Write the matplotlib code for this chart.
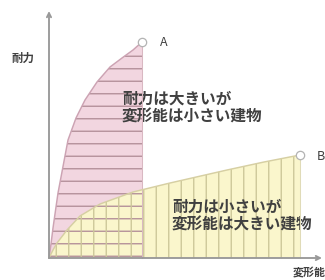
import matplotlib
matplotlib.use("Agg")
import matplotlib.pyplot as plt

plt.rcParams['font.family'] = ['Noto Sans CJK JP', 'DejaVu Sans']
plt.rcParams['hatch.linewidth'] = 1.3

# Curve A: high strength, low deformability (deformation, strength)
a_def = [0, 2, 4, 9, 19, 27, 36, 48, 61, 73, 84, 93]
a_str = [0, 14, 30, 65, 118, 140, 158, 176, 191, 200, 208, 216]
# Curve B: low strength, high deformability
b_def = [0, 4, 8, 18, 31, 51, 84, 121, 178, 215, 251]
b_str = [0, 8, 15, 28, 42, 54, 66, 75, 88, 96, 103]

label_y = "耐力"
label_x = "変形能"
text_a = "耐力は大きいが\n変形能は小さい建物"
text_b = "耐力は小さいが\n変形能は大きい建物"

fig = plt.figure(figsize=(325/75, 280/75), dpi=75)
ax = fig.add_axes([0, 0, 1, 1])
ax.set_xlim(-49, 276)
ax.set_ylim(-22, 258)
ax.axis('off')

pink = (0.95, 0.84, 0.88)
yellow = (0.98, 0.965, 0.80)

ax.fill_between(a_def, a_str, 0, facecolor=pink, edgecolor='none', zorder=1)
ax.fill_between(b_def, b_str, 0, facecolor=yellow, edgecolor='none', zorder=2)
ax.fill_between(a_def, a_str, 0, facecolor='none', edgecolor=(0.70, 0.56, 0.60),
                hatch='-', linewidth=0, zorder=3)
ax.fill_between(b_def, b_str, 0, facecolor='none', edgecolor=(0.80, 0.78, 0.60),
                hatch='|', linewidth=0, zorder=3)

ax.plot(a_def, a_str, color=(0.80, 0.64, 0.70), lw=1.4, zorder=4)
ax.plot([a_def[-1], a_def[-1]], [0, a_str[-1]], color=(0.85, 0.72, 0.76), lw=1.0, zorder=4)
ax.plot(b_def, b_str, color=(0.84, 0.81, 0.64), lw=1.4, zorder=4)
ax.plot([b_def[-1], b_def[-1]], [0, b_str[-1]], color=(0.88, 0.86, 0.72), lw=1.0, zorder=4)

ax.plot([a_def[-1]], [a_str[-1]], 'o', ms=8, mfc='white', mec=(0.7, 0.7, 0.7), mew=1.2, zorder=5)
ax.plot([b_def[-1]], [b_str[-1]], 'o', ms=8, mfc='white', mec=(0.7, 0.7, 0.7), mew=1.2, zorder=5)

axc = (0.6, 0.6, 0.6)
ax.annotate('', xy=(273, 0), xytext=(0, 0),
            arrowprops=dict(arrowstyle='->', color=axc, lw=1.8, shrinkA=0, shrinkB=0), zorder=6)
ax.annotate('', xy=(0, 247), xytext=(0, 0),
            arrowprops=dict(arrowstyle='->', color=axc, lw=1.8, shrinkA=0, shrinkB=0), zorder=6)

tc = (0.25, 0.25, 0.25)
ax.text(-26, 200, label_y, fontsize=11, color=tc, ha='center', va='center', fontweight='bold')
ax.text(260, -14, label_x, fontsize=10.5, color=tc, ha='center', va='center', fontweight='bold')
ax.text(a_def[-1] + 18, a_str[-1], "A", fontsize=12, color=tc, ha='left', va='center')
ax.text(b_def[-1] + 17, b_str[-1] - 2, "B", fontsize=12, color=tc, ha='left', va='center')
ax.text(73, 150, text_a, fontsize=15, color=tc, ha='left', va='center', linespacing=1.15, fontweight='bold')
ax.text(123, 42, text_b, fontsize=15, color=tc, ha='left', va='center', linespacing=1.15, fontweight='bold')

fig.savefig('out.png', dpi=75, facecolor='white')
